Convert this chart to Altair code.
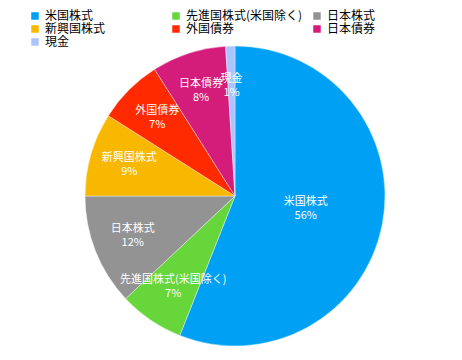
import altair as alt
import pandas as pd

categories = ["米国株式", "先進国株式(米国除く)", "日本株式", "新興国株式", "外国債券", "日本債券", "現金"]
values = [56, 7, 12, 9, 7, 8, 1]
colors = ["#00a0f5", "#66d63a", "#939393", "#f9b800", "#ff2a00", "#d41c7a", "#aac4ff"]

df = pd.DataFrame({
    "cat": categories,
    "val": values,
    "idx": list(range(len(categories))),
    "pct": [f"{v}%" for v in values],
})

CX, CY, R = 227, 188, 150
FONT = "Noto Sans CJK JP"
TOTAL = sum(values)

theta_scale = alt.Scale(domain=[0, TOTAL])

base = alt.Chart(df).transform_stack(
    stack="val", as_=["v0", "v1"], groupby=[], sort=[alt.SortField("idx", order="ascending")]
).transform_calculate(
    mid="(datum.v0 + datum.v1) / 2"
).encode(
    x=alt.value(CX),
    y=alt.value(CY),
)

color = alt.Color(
    "cat:N",
    scale=alt.Scale(domain=categories, range=colors),
    legend=alt.Legend(
        title=None,
        orient="none",
        direction="horizontal",
        legendX=21,
        legendY=2,
        columns=3,
        gridAlign="all",
        columnPadding=8,
        rowPadding=1,
        symbolType="square",
        symbolSize=56,
        symbolStrokeWidth=0,
        symbolOffset=0,
        labelOffset=4,
        labelFont=FONT,
        labelFontSize=12,
        labelColor="#000000",
        labelLimit=300,
    ),
)

arcs = base.mark_arc(outerRadius=R, stroke="#ffffff", strokeWidth=0.4).encode(
    theta=alt.Theta("v0:Q", scale=theta_scale, stack=None),
    theta2="v1:Q",
    color=color,
)

def labels(field, dy, radius, pred):
    return base.transform_filter(pred).mark_text(
        radius=radius, dy=dy, color="white", font=FONT, fontSize=11
    ).encode(
        theta=alt.Theta("mid:Q", scale=theta_scale, stack=None),
        text=f"{field}:N",
    )

big = "datum.cat == '米国株式'"
small = "datum.cat != '米国株式'"

chart = alt.layer(
    arcs,
    labels("cat", -7, 72, big),
    labels("pct", 7, 72, big),
    labels("cat", -7, 110, small),
    labels("pct", 7, 110, small),
).properties(
    width=446, height=344, autosize="none", padding=0
).configure_view(stroke=None)

chart.save("out.html", embed_options={"renderer": "svg", "actions": False})
